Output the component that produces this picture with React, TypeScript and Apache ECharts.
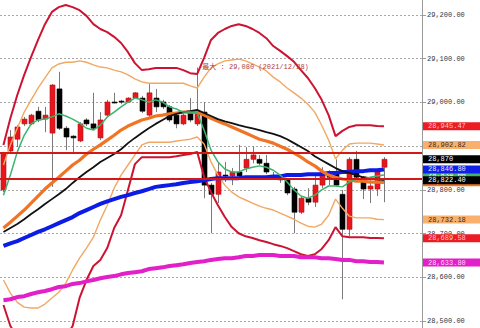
import React, { useEffect, useRef } from "react";
import * as echarts from "echarts";

const MONO = "'Liberation Mono', 'DejaVu Sans Mono', monospace";
const NOTE_FONT = "'Liberation Mono', 'Noto Sans CJK JP', monospace";

// 56 sessions plus empty room on the right edge
const SLOT_COUNT = 61;
const categories: string[] = Array.from({ length: SLOT_COUNT }, (_, i) => String(i + 1));

// [open, close, low, high]
const candles: number[][] = [
  [28800, 28882, 28795, 28887], [28889, 28921, 28882, 28937], [28916, 28944, 28898, 28948],
  [28951, 28962, 28946, 28967], [28951, 28971, 28948, 28974], [28980, 28960, 28955, 28990],
  [28962, 28971, 28932, 28990], [28930, 29040, 28807, 29042], [29031, 28941, 28937, 29070],
  [28941, 28921, 28891, 28946], [28923, 28919, 28882, 28925], [28912, 28951, 28909, 28955],
  [28960, 28951, 28946, 28964], [28951, 28941, 28937, 29022], [28919, 28960, 28914, 28978],
  [28971, 29001, 28967, 29006], [29001, 28999, 28998, 29022], [29003, 29001, 28996, 29006],
  [29001, 29010, 28999, 29012], [29010, 29022, 29008, 29024], [29010, 28980, 28976, 29015],
  [28971, 29022, 28967, 29042], [29010, 28990, 28978, 29031], [29001, 28990, 28985, 29006],
  [28990, 28960, 28955, 28994], [28971, 28951, 28941, 28976], [28951, 28971, 28948, 28976],
  [28980, 28960, 28955, 29010], [28951, 28980, 28946, 29080], [28978, 28811, 28781, 29001],
  [28811, 28790, 28701, 28816], [28790, 28841, 28770, 28864], [28834, 28832, 28818, 28864],
  [28832, 28841, 28811, 28850], [28841, 28832, 28827, 28903], [28850, 28870, 28841, 28898],
  [28870, 28880, 28861, 28900], [28870, 28861, 28857, 28880], [28861, 28841, 28836, 28880],
  [28832, 28831, 28823, 28841], [28829, 28823, 28816, 28834], [28823, 28793, 28788, 28827],
  [28802, 28749, 28701, 28807], [28749, 28781, 28745, 28786], [28781, 28772, 28765, 28804],
  [28772, 28811, 28761, 28834], [28811, 28841, 28804, 28852], [28832, 28829, 28811, 28845],
  [28841, 28811, 28809, 28870], [28790, 28710, 28550, 28800], [28710, 28870, 28694, 28875],
  [28870, 28829, 28827, 28889], [28829, 28802, 28779, 28832], [28802, 28809, 28770, 28823],
  [28802, 28841, 28786, 28845], [28852, 28870, 28772, 28875],
];

// short moving average (green)
const maShort: number[] = [
  28788, 28834, 28887, 28925, 28951, 28960, 28962, 28967, 28974, 28969,
  28962, 28953, 28941, 28937, 28948, 28967, 28978, 28990, 29001, 29010,
  29006, 29001, 29006, 29001, 28990, 28985, 28978, 28978, 28976, 28937,
  28891, 28864, 28848, 28841, 28841, 28848, 28852, 28855, 28852, 28845,
  28834, 28818, 28800, 28786, 28781, 28788, 28800, 28809, 28809, 28807,
  28818, 28825, 28825, 28829, 28832, 28834,
];

// band centre line (thick orange)
const maCenter: number[] = [
  28713, 28726, 28740, 28754, 28770, 28786, 28802, 28816, 28829, 28843,
  28857, 28868, 28882, 28893, 28903, 28914, 28925, 28937, 28946, 28953,
  28960, 28964, 28969, 28971, 28974, 28976, 28978, 28978, 28978, 28971,
  28964, 28957, 28951, 28944, 28937, 28930, 28923, 28916, 28912, 28907,
  28900, 28893, 28884, 28875, 28864, 28855, 28843, 28834, 28829, 28825,
  28823, 28820, 28820, 28818, 28818, 28817.5,
];

// medium moving average (black)
const maMedium: number[] = [
  28704, 28713, 28722, 28733, 28745, 28756, 28768, 28779, 28790, 28802,
  28816, 28829, 28841, 28852, 28864, 28873, 28882, 28893, 28907, 28919,
  28930, 28941, 28951, 28960, 28969, 28974, 28978, 28980, 28983, 28976,
  28969, 28962, 28957, 28953, 28948, 28944, 28941, 28937, 28932, 28928,
  28923, 28916, 28907, 28898, 28889, 28877, 28868, 28859, 28850, 28843,
  28839, 28834, 28829, 28827, 28825, 28822.4,
];

// long moving average (blue)
const maLong: number[] = [
  28672, 28678, 28683, 28690, 28697, 28704, 28710, 28717, 28724, 28731,
  28738, 28747, 28754, 28761, 28768, 28774, 28779, 28784, 28788, 28793,
  28797, 28802, 28807, 28809, 28811, 28813, 28816, 28818, 28820, 28822,
  28825, 28827, 28827, 28827, 28827, 28829, 28829, 28829, 28829, 28831,
  28831, 28834, 28834, 28834, 28836, 28836, 28836, 28839, 28839, 28841,
  28841, 28843, 28843, 28845, 28845, 28846.8,
];

// longest moving average (magenta)
const maLongest: number[] = [
  28548, 28550, 28555, 28557, 28562, 28566, 28569, 28573, 28578, 28580,
  28585, 28587, 28591, 28594, 28598, 28601, 28603, 28607, 28610, 28612,
  28614, 28619, 28621, 28623, 28626, 28628, 28630, 28633, 28635, 28637,
  28640, 28642, 28644, 28644, 28646, 28649, 28649, 28651, 28651, 28651,
  28649, 28649, 28649, 28646, 28646, 28646, 28644, 28644, 28642, 28640,
  28640, 28637, 28637, 28635, 28635, 28633.8,
];

// inner bands (light orange)
const bandInnerUpper: number[] = [
  28857, 28903, 28941, 28978, 29006, 29033, 29056, 29079, 29088, 29092,
  29092, 29095, 29092, 29086, 29081, 29079, 29074, 29070, 29063, 29054,
  29047, 29044, 29044, 29044, 29044, 29044, 29044, 29038, 29033, 29058,
  29079, 29088, 29095, 29097, 29099, 29095, 29088, 29081, 29072, 29058,
  29047, 29033, 29022, 29010, 28996, 28978, 28948, 28914, 28871, 28891,
  28905, 28907, 28907, 28907, 28905, 28902.82,
];
const bandInnerLower: number[] = [
  28594, 28564, 28543, 28532, 28530, 28530, 28539, 28553, 28566, 28587,
  28617, 28644, 28667, 28692, 28731, 28765, 28804, 28834, 28857, 28880,
  28903, 28909, 28909, 28909, 28909, 28912, 28914, 28916, 28921, 28905,
  28864, 28834, 28811, 28795, 28784, 28777, 28770, 28763, 28758, 28754,
  28747, 28740, 28733, 28724, 28717, 28715, 28722, 28742, 28779, 28758,
  28740, 28736, 28736, 28736, 28733, 28732.18,
];

// outer bands (crimson)
const bandOuterUpper: number[] = [
  28903, 28964, 29017, 29063, 29104, 29143, 29179, 29207, 29218, 29223,
  29218, 29211, 29198, 29179, 29168, 29161, 29150, 29136, 29115, 29090,
  29074, 29076, 29079, 29079, 29079, 29079, 29074, 29067, 29065, 29102,
  29143, 29159, 29168, 29175, 29179, 29175, 29168, 29159, 29147, 29129,
  29118, 29106, 29093, 29074, 29056, 29033, 29006, 28971, 28923, 28935,
  28944, 28948, 28948, 28948, 28946, 28945.47,
];
const bandOuterLower: number[] = [
  28537, 28489, 28463, 28445, 28436, 28429, 28424, 28424, 28440, 28463,
  28489, 28553, 28594, 28626, 28640, 28667, 28713, 28742, 28800, 28859,
  28875, 28875, 28875, 28875, 28875, 28877, 28880, 28882, 28887, 28830,
  28795, 28765, 28738, 28715, 28701, 28694, 28690, 28685, 28681, 28676,
  28672, 28667, 28660, 28653, 28649, 28653, 28665, 28685, 28715, 28694,
  28692, 28692, 28692, 28690, 28690, 28689.58,
];

// horizontal price levels
const levelLines: number[] = [28885, 28826];

// session high note
const highIndex = 28;
const highValue = 29080;
const highDate = "2021/12/28";

const Y_MIN = 28484.3;
const Y_MAX = 29234.3;

const fmt2 = (v: number) =>
  v.toLocaleString("en-US", { minimumFractionDigits: 2, maximumFractionDigits: 2 });
const fmt0 = (v: number) => v.toLocaleString("en-US", { maximumFractionDigits: 0 });
const last = (a: number[]) => a[a.length - 1];

// value tag drawn just right of the price axis
function priceTag(value: number, text: string, bg: string, fg: string, z: number) {
  return {
    z,
    silent: true,
    symbol: ["none", "none"],
    lineStyle: { color: "rgba(0,0,0,0)", width: 0 },
    emphasis: { disabled: true },
    label: {
      show: true,
      position: "end",
      distance: 1,
      formatter: text,
      backgroundColor: bg,
      color: fg,
      opacity: 1,
      fontSize: 7,
      lineHeight: 7,
      fontFamily: MONO,
      padding: [1, 4, 0, 5],
      width: 50,
    },
    data: [{ yAxis: value }],
  };
}

function lineSeries(name: string, data: number[], color: string, width: number, z: number, markLine?: any) {
  return {
    name,
    type: "line",
    data,
    z,
    symbol: "none",
    clip: false,
    silent: true,
    lineStyle: { color, width },
    itemStyle: { color },
    emphasis: { disabled: true },
    markLine,
  };
}

export default function App() {
  const ref = useRef<HTMLDivElement>(null);

  useEffect(() => {
    if (!ref.current) return;
    const chart = echarts.init(ref.current, undefined, { renderer: "svg" });

    const candleData = candles.map((c, i) => [i, c[0], c[1], c[2], c[3]]);

    chart.setOption({
      animation: false,
      backgroundColor: "#ffffff",
      grid: { left: 0, right: 58, top: 0, bottom: 0 },
      xAxis: {
        type: "category",
        data: categories,
        boundaryGap: true,
        show: false,
      },
      yAxis: {
        type: "value",
        position: "right",
        min: Y_MIN,
        max: Y_MAX,
        minInterval: 100,
        maxInterval: 100,
        splitNumber: 7,
        axisLine: { show: true, lineStyle: { color: "#9a9a9a", width: 1 } },
        axisTick: { show: true, length: 4, lineStyle: { color: "#9a9a9a" } },
        axisLabel: {
          show: true,
          margin: 5,
          fontSize: 7,
          fontFamily: MONO,
          color: "#333333",
          showMinLabel: false,
          showMaxLabel: false,
          formatter: (v: number) => fmt2(v),
        },
        splitLine: {
          show: true,
          showMinLine: false,
          showMaxLine: false,
          lineStyle: { color: "#a8a8a8", type: [2, 2], width: 1 },
        },
      },
      series: [
        {
          name: "price",
          type: "custom",
          z: 2,
          clip: false,
          silent: true,
          data: candleData,
          encode: { x: 0, y: [1, 2, 3, 4] },
          renderItem: (_params: any, api: any) => {
            const idx = api.value(0);
            const open = api.value(1);
            const close = api.value(2);
            const low = api.value(3);
            const high = api.value(4);
            const pHigh = api.coord([idx, high]);
            const pLow = api.coord([idx, low]);
            const pOpen = api.coord([idx, open]);
            const pClose = api.coord([idx, close]);
            const band = api.size([1, 0])[0];
            const w = Math.max(3, Math.round(band * 0.76));
            const cx = Math.round(pHigh[0]) + 0.5;
            const up = close > open;
            const top = Math.min(pOpen[1], pClose[1]);
            const h = Math.max(1, Math.abs(pOpen[1] - pClose[1]));
            return {
              type: "group",
              children: [
                {
                  type: "line",
                  shape: { x1: cx, y1: pHigh[1], x2: cx, y2: pLow[1] },
                  style: { stroke: "#7a7a7a", lineWidth: 1 },
                },
                {
                  type: "rect",
                  shape: { x: cx - w / 2, y: top, width: w, height: h },
                  style: {
                    fill: up ? "#e8161c" : "#000000",
                    stroke: up ? "#b01014" : "#000000",
                    lineWidth: 0.6,
                  },
                },
              ],
            };
          },
        },
        lineSeries("outerUpper", bandOuterUpper, "#cc1432", 2, 3,
          priceTag(last(bandOuterUpper), fmt2(last(bandOuterUpper)), "#ec1c24", "#ffc8c8", 12)),
        lineSeries("outerLower", bandOuterLower, "#cc1432", 2, 3,
          priceTag(last(bandOuterLower), fmt2(last(bandOuterLower)), "#ec1c24", "#ffc8c8", 12)),
        lineSeries("innerUpper", bandInnerUpper, "#f2a862", 1.4, 3,
          priceTag(last(bandInnerUpper), fmt2(last(bandInnerUpper)), "#f9b06c", "#3a2a1a", 12)),
        lineSeries("innerLower", bandInnerLower, "#f2a862", 1.4, 3,
          priceTag(last(bandInnerLower), fmt2(last(bandInnerLower)), "#f9b06c", "#3a2a1a", 12)),
        lineSeries("maLongest", maLongest, "#e21fc8", 4, 4,
          priceTag(last(maLongest), fmt2(last(maLongest)), "#e21fc8", "#ffd6f6", 12)),
        lineSeries("maLong", maLong, "#0c1ce6", 4, 4,
          priceTag(last(maLong), fmt2(last(maLong)), "#1020e8", "#e4e8ff", 14)),
        lineSeries("maCenter", maCenter, "#f07424", 3.2, 4,
          priceTag(last(maCenter), fmt2(last(maCenter)), "#f07424", "#ffffff", 11)),
        lineSeries("maMedium", maMedium, "#111111", 1.8, 4,
          priceTag(last(maMedium), fmt2(last(maMedium)), "#000000", "#ffffff", 15)),
        lineSeries("maShort", maShort, "#3cb46e", 1.5, 4,
          priceTag(last(maShort), fmt2(last(maShort)), "#3cb46e", "#ffffff", 10)),
        {
          name: "levels",
          type: "line",
          data: [],
          z: 6,
          silent: true,
          markLine: {
            z: 6,
            silent: true,
            symbol: ["none", "none"],
            label: { show: false },
            emphasis: { disabled: true },
            lineStyle: { color: "#d41818", width: 2, type: "solid" },
            data: levelLines.map((v) => ({ yAxis: v })),
          },
          markPoint: {
            z: 7,
            silent: true,
            symbol: "circle",
            symbolSize: 0,
            itemStyle: { color: "transparent" },
            label: {
              show: true,
              position: "right",
              distance: 1,
              color: "#b03c3c",
              fontSize: 7,
              fontFamily: NOTE_FONT,
              formatter: `-最大 : ${fmt0(highValue)} (${highDate})`,
            },
            data: [{ coord: [categories[highIndex], highValue] }],
          },
        },
        {
          name: "lastPrice",
          type: "line",
          data: [],
          z: 6,
          silent: true,
          markLine: priceTag(
            candles[candles.length - 1][1],
            fmt0(candles[candles.length - 1][1]),
            "#000000",
            "#ffffff",
            16
          ),
        },
      ],
    });

    return () => chart.dispose();
  }, []);

  return (
    <div
      ref={ref}
      style={{ position: "fixed", left: 0, top: 0, width: 480, height: 328, background: "#fff" }}
    />
  );
}
